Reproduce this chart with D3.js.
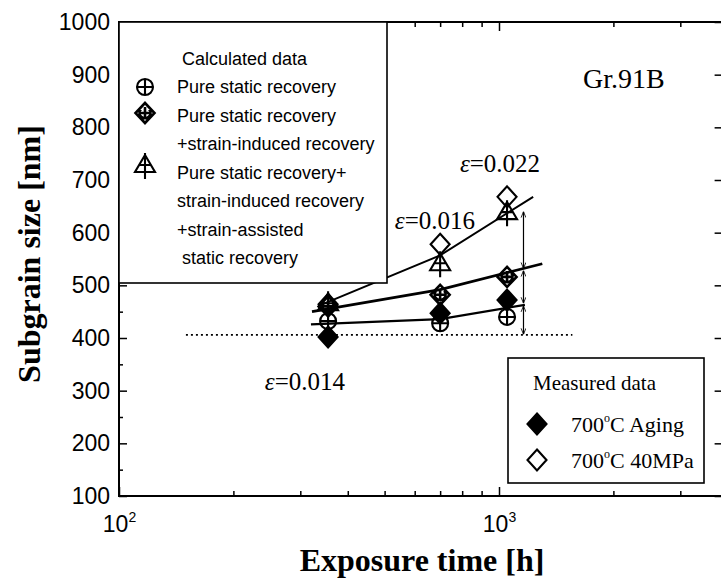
<!DOCTYPE html>
<html>
<head>
<meta charset="utf-8">
<script src="https://cdn.jsdelivr.net/npm/d3@7"></script>
<style>
  body { margin: 0; background: #fff; }
  svg { display: block; }
</style>
</head>
<body>
<div id="chart"></div>
<script>
// ---- data ----
const exposureHours = [355, 700, 1050];
const pureStatic = [432, 428, 440];             // circle-plus
const staticInduced = [460, 482, 516];          // diamond-plus
const staticInducedAssisted = [466, 542, 639];  // triangle-plus
const aging700 = [402, 447, 472];               // filled diamond
const creep40MPa = [464, 578, 668];             // open diamond

const lowerFitHours = [320, 700, 1170];
const lowerFit = [426, 436, 463];
const middleFitHours = [322, 700, 1300];
const middleFit = [450, 492, 541];
const upperFitHours = [340, 700, 1230];
const upperFit = [463, 557, 668];

const initialSize = 406;
const initialSizeHours = [150, 1560];

const arrowHours = 1160;
const arrowSpans = [[640, 532], [528, 466], [461, 407]];

const strainLabels = ["=0.014", "=0.016", "=0.022"];
const strainLabelHours = [242, 532, 789];
const strainLabelSizes = [301, 607, 715];

const yMajorTicks = d3.range(100, 1001, 100);
const yMinorTicks = d3.range(150, 1000, 100);
const xMajorTicks = [100, 1000];
const xMinorTicks = [200, 300, 400, 500, 600, 700, 800, 900, 2000, 3000];

const calcLegendLines = [
  "Pure static recovery",
  "Pure static recovery",
  "+strain-induced recovery",
  "Pure static recovery+",
  "strain-induced recovery",
  "+strain-assisted",
  " static recovery"
];

/*******************************/
/*    Declare the constants    */
/*******************************/
const width = 721;
const height = 584;
const margin = { top: 22, left: 119, bottom: 88 };
const innerHeight = height - margin.top - margin.bottom;
const serif = "'Liberation Serif', 'Times New Roman', serif";
const sans = "'Liberation Sans', Arial, sans-serif";

const svg = d3.select("#chart")
  .append("svg")
  .attr("width", width)
  .attr("height", height);

const defs = svg.append("defs");
defs.append("marker")
  .attr("id", "head")
  .attr("viewBox", "0 0 10 10")
  .attr("refX", 10).attr("refY", 5)
  .attr("markerWidth", 6).attr("markerHeight", 6)
  .attr("markerUnits", "userSpaceOnUse")
  .attr("orient", "auto-start-reverse")
  .append("path")
  .attr("d", "M0,1 L10,5 L0,9")
  .attr("fill", "none")
  .attr("stroke", "#000")
  .attr("stroke-width", 1.4);

const inner = svg.append("g")
  .attr("transform", `translate(${margin.left}, ${margin.top})`);

// x domain runs past the window edge like the original crop
const xScale = d3.scaleLog()
  .domain([100, 3900])
  .range([0, 380 * Math.log10(39)]);
const innerWidth = xScale.range()[1];

const yScale = d3.scaleLinear()
  .domain([100, 1000])
  .range([innerHeight, 0]);

/*******************************/
/*            Axes             */
/*******************************/
const tidy = g => {
  g.select(".domain").remove();
  g.selectAll("line").attr("stroke", "#000").attr("stroke-width", 1.5);
};
const noLabels = g => g.selectAll("text").remove();

// left
inner.append("g")
  .call(d3.axisLeft(yScale).tickValues(yMajorTicks).tickSize(-8).tickPadding(9).tickFormat(d3.format("d")))
  .call(tidy)
  .call(g => g.selectAll("text")
    .attr("font-family", sans).attr("font-size", 23).attr("fill", "#000"));
inner.append("g")
  .call(d3.axisLeft(yScale).tickValues(yMinorTicks).tickSize(-4))
  .call(tidy).call(noLabels);

// right (majors only)
inner.append("g")
  .attr("transform", `translate(${innerWidth}, 0)`)
  .call(d3.axisRight(yScale).tickValues(yMajorTicks).tickSize(-9))
  .call(tidy).call(noLabels);

// bottom
inner.append("g")
  .attr("transform", `translate(0, ${innerHeight})`)
  .call(d3.axisBottom(xScale).tickValues(xMajorTicks).tickSize(-9).tickPadding(20))
  .call(tidy)
  .call(g => g.selectAll("text").each(function (d) {
    const t = d3.select(this).text("")
      .attr("font-family", sans).attr("font-size", 23).attr("fill", "#000");
    t.append("tspan").text("10");
    t.append("tspan").text(Math.round(Math.log10(d)))
      .attr("font-size", 14).attr("dy", "-0.75em");
  }));
inner.append("g")
  .attr("transform", `translate(0, ${innerHeight})`)
  .call(d3.axisBottom(xScale).tickValues(xMinorTicks).tickSize(-5))
  .call(tidy).call(noLabels);

// top
inner.append("g")
  .call(d3.axisTop(xScale).tickValues(xMajorTicks).tickSize(-9))
  .call(tidy).call(noLabels);
inner.append("g")
  .call(d3.axisTop(xScale).tickValues(xMinorTicks).tickSize(-5))
  .call(tidy).call(noLabels);

// frame
inner.append("rect")
  .attr("width", innerWidth)
  .attr("height", innerHeight)
  .attr("fill", "none")
  .attr("stroke", "#000")
  .attr("stroke-width", 2);

// axis titles
svg.append("text")
  .text("Exposure time [h]")
  .attr("x", margin.left + xScale(1000) - 77)
  .attr("y", 571)
  .attr("text-anchor", "middle")
  .attr("font-family", serif).attr("font-weight", "bold").attr("font-size", 32);

svg.append("text")
  .text("Subgrain size [nm]")
  .attr("transform", `translate(40, ${margin.top + innerHeight / 2 - 5}) rotate(-90)`)
  .attr("text-anchor", "middle")
  .attr("font-family", serif).attr("font-weight", "bold").attr("font-size", 32);

/*******************************/
/*         Fit lines           */
/*******************************/
const line = d3.line()
  .x(d => xScale(d[0]))
  .y(d => yScale(d[1]));

const fits = [
  { hours: lowerFitHours, values: lowerFit, w: 2.2 },
  { hours: middleFitHours, values: middleFit, w: 2.8 },
  { hours: upperFitHours, values: upperFit, w: 2 }
];
fits.forEach(f => {
  inner.append("path")
    .attr("d", line(d3.zip(f.hours, f.values)))
    .attr("fill", "none")
    .attr("stroke", "#000")
    .attr("stroke-width", f.w);
});

inner.append("line")
  .attr("x1", xScale(initialSizeHours[0]))
  .attr("x2", xScale(initialSizeHours[1]))
  .attr("y1", yScale(initialSize))
  .attr("y2", yScale(initialSize))
  .attr("stroke", "#000")
  .attr("stroke-width", 1.6)
  .attr("stroke-dasharray", "2,3");

/*******************************/
/*          Markers            */
/*******************************/
const markerPaths = {
  circlePlus: "M-8,0 A8,8 0 1,0 8,0 A8,8 0 1,0 -8,0 Z M-8,0 L8,0 M0,-8 L0,8",
  diamondPlus: "M0,-10 L9.5,0 L0,10 L-9.5,0 Z M-5,0 L5,0 M0,-6 L0,6 M-4,-4 A5.5,5.5 0 1,0 4,-4",
  trianglePlus: "M0,-10 L10,7 L-10,7 Z M0,-12 L0,14 M-6,0 L6,0",
  diamond: "M0,-10.5 L9.5,0 L0,10.5 L-9.5,0 Z"
};

const drawMarker = (g, x, y, kind) => {
  const filled = kind === "diamondFilled";
  g.append("path")
    .attr("transform", `translate(${x}, ${y})`)
    .attr("d", filled || kind === "diamondOpen" ? markerPaths.diamond : markerPaths[kind])
    .attr("fill", filled ? "#000" : "none")
    .attr("stroke", "#000")
    .attr("stroke-width", kind === "diamondPlus" ? 2.6 : 2.1);
};

const series = [
  { values: pureStatic, kind: "circlePlus" },
  { values: staticInduced, kind: "diamondPlus" },
  { values: staticInducedAssisted, kind: "trianglePlus" },
  { values: aging700, kind: "diamondFilled" },
  { values: creep40MPa, kind: "diamondOpen" }
];
series.forEach(s => {
  s.values.forEach((v, i) => drawMarker(inner, xScale(exposureHours[i]), yScale(v), s.kind));
});

// double-headed arrows
arrowSpans.forEach(([a, b]) => {
  inner.append("line")
    .attr("x1", xScale(arrowHours)).attr("x2", xScale(arrowHours))
    .attr("y1", yScale(a)).attr("y2", yScale(b))
    .attr("stroke", "#000")
    .attr("stroke-width", 1.2)
    .attr("marker-start", "url(#head)")
    .attr("marker-end", "url(#head)");
});

// strain labels
strainLabels.forEach((s, i) => {
  const t = inner.append("text")
    .attr("x", xScale(strainLabelHours[i]))
    .attr("y", yScale(strainLabelSizes[i]))
    .attr("font-family", serif).attr("font-size", 25);
  t.append("tspan").text("ε").attr("font-style", "italic");
  t.append("tspan").text(s);
});

inner.append("text")
  .text("Gr.91B")
  .attr("x", xScale(1663))
  .attr("y", yScale(875))
  .attr("font-family", serif).attr("font-size", 28);

/*******************************/
/*          Legends            */
/*******************************/
const calcLegend = svg.append("g");
calcLegend.append("rect")
  .attr("x", margin.left).attr("y", margin.top)
  .attr("width", 268).attr("height", 261)
  .attr("fill", "#fff")
  .attr("stroke", "#000").attr("stroke-width", 1.6);
calcLegend.append("text")
  .text("Calculated data")
  .attr("x", 182).attr("y", 65)
  .attr("font-family", sans).attr("font-size", 18);
calcLegendLines.forEach((s, i) => {
  calcLegend.append("text")
    .text(s)
    .attr("x", 177).attr("y", 93 + i * 28.5)
    .attr("xml:space", "preserve")
    .attr("font-family", sans).attr("font-size", 18);
});
const legendMarkers = [
  { kind: "circlePlus", y: 87 },
  { kind: "diamondPlus", y: 113 },
  { kind: "trianglePlus", y: 165 }
];
legendMarkers.forEach(m => drawMarker(calcLegend, 145, m.y, m.kind));

const measLegend = svg.append("g");
measLegend.append("rect")
  .attr("x", 508).attr("y", 358)
  .attr("width", 196).attr("height", 125)
  .attr("fill", "#fff")
  .attr("stroke", "#000").attr("stroke-width", 1.6);
measLegend.append("text")
  .text("Measured data")
  .attr("x", 533).attr("y", 390)
  .attr("font-family", serif).attr("font-size", 21);
const measRows = [
  { label: "C Aging", kind: "diamondFilled", y: 432 },
  { label: "C 40MPa", kind: "diamondOpen", y: 468 }
];
measRows.forEach(r => {
  drawMarker(measLegend, 537, r.y - 8, r.kind);
  const t = measLegend.append("text")
    .attr("x", 571).attr("y", r.y)
    .attr("font-family", serif).attr("font-size", 22);
  t.append("tspan").text("700");
  t.append("tspan").text("o").attr("font-size", 12).attr("dy", -10);
  t.append("tspan").text(r.label).attr("dy", 10);
});
</script>
</body>
</html>
